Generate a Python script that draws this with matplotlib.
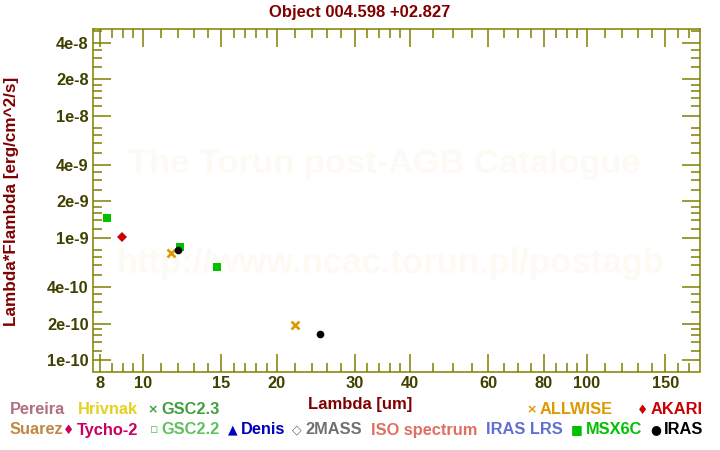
import matplotlib
matplotlib.use("Agg")
import matplotlib.pyplot as plt
from matplotlib.ticker import FixedLocator, NullFormatter

# photometry (wavelength in um, lambda*F_lambda in erg/cm^2/s)
msx_wl = [8.28, 12.13, 14.65]
msx_flux = [1.46e-9, 8.44e-10, 5.78e-10]
akari_wl = [8.98]
akari_flux = [1.03e-9]
allwise_wl = [11.58, 22.0]
allwise_flux = [7.58e-10, 1.94e-10]
iras_wl = [12.0, 25.0]
iras_flux = [8.02e-10, 1.63e-10]

x_major = [8, 10, 15, 20, 30, 40, 60, 80, 100, 150]
x_minor = [8.5, 9, 9.5, 11, 12, 13, 14, 16, 17, 18, 19, 22, 24, 26, 28,
           32, 34, 36, 38, 45, 50, 55, 65, 70, 75, 85, 90, 95,
           110, 120, 130, 140, 160, 170]
y_major = [1e-10, 2e-10, 4e-10, 1e-9, 2e-9, 4e-9, 1e-8, 2e-8, 4e-8]
y_major_labels = ["1e-10", "2e-10", "4e-10", "1e-9", "2e-9", "4e-9",
                  "1e-8", "2e-8", "4e-8"]
y_minor = [m * d for d in (1e-10, 1e-9, 1e-8)
           for m in (1.2, 1.4, 1.6, 1.8, 2.5, 3, 3.5, 5, 6, 7, 8)]

# legend entries: (text, colour, marker glyph, x pixel, row)
legend_items = [
    ("Pereira", "#b07080", "", 10, 0),
    ("Hrivnak", "#e6d020", "", 78, 0),
    ("GSC2.3", "#40a040", "\u00d7", 161, 0),
    ("ALLWISE", "#dd9900", "\u00d7", 540, 0),
    ("AKARI", "#cc0000", "\u2666", 651, 0),
    ("Suarez", "#c08840", "", 10, 1),
    ("Tycho-2", "#c80060", "\u2666", 77, 1),
    ("GSC2.2", "#60c060", "\u25ab", 161, 1),
    ("Denis", "#0000c0", "\u25b2", 241, 1),
    ("2MASS", "#707070", "\u25c7", 305, 1),
    ("ISO spectrum", "#e07060", "", 371, 1),
    ("IRAS LRS", "#6070d0", "", 486, 1),
    ("MSX6C", "#00c000", "\u25a0", 586, 1),
    ("IRAS", "#000000", "\u25cf", 664, 1),
]

plt.rcParams['font.family'] = ['Liberation Sans', 'DejaVu Sans']
plt.rcParams['font.weight'] = 'bold'

W, H = 720, 450
fig = plt.figure(figsize=(7.2, 4.5), dpi=100)
ax = fig.add_axes([93 / W, 1 - 371.5 / H, (700 - 93) / W, (371.5 - 29) / H])

olive = "#808000"
dark_olive = "#404000"
dark_red = "#800000"

# watermark
ax.text(0.48, 0.605, "The Torun post-AGB Catalogue", transform=ax.transAxes,
        ha='center', va='center', fontsize=24.8, color='#fdfaf4', zorder=0)
ax.text(0.49, 0.315, "http://www.ncac.torun.pl/postagb", transform=ax.transAxes,
        ha='center', va='center', fontsize=25, color='#fdfaf4', zorder=0)

ax.plot(msx_wl, msx_flux, 's', color='#00c000', ms=5.5, mew=0, ls='none')
ax.plot(akari_wl, akari_flux, 'D', color='#cc0000', ms=5.5, mew=0, ls='none')
ax.plot(allwise_wl, allwise_flux, 'x', color='#dd9900', ms=6, mew=1.9, ls='none')
ax.plot(iras_wl, iras_flux, 'o', color='black', ms=5.5, mew=0, ls='none')

ax.set_xscale('log')
ax.set_yscale('log')
ax.set_xlim(7.72, 179.7)
ax.set_ylim(8.1e-11, 5.16e-8)

ax.xaxis.set_major_locator(FixedLocator(x_major))
ax.xaxis.set_minor_locator(FixedLocator(x_minor))
ax.set_xticklabels([str(v) for v in x_major])
ax.xaxis.set_minor_formatter(NullFormatter())
ax.yaxis.set_major_locator(FixedLocator(y_major))
ax.yaxis.set_minor_locator(FixedLocator(y_minor))
ax.set_yticklabels(y_major_labels)
ax.yaxis.set_minor_formatter(NullFormatter())

ax.tick_params(which='both', direction='in', top=True, right=True,
               color=olive, width=1.1, labelcolor=dark_olive, labelsize=11.8)
ax.tick_params(which='major', length=13, pad=3)
ax.tick_params(which='minor', length=6.5)
for s in ax.spines.values():
    s.set_color(olive)
    s.set_linewidth(1.1)

fig.text(360 / W, 1 - 12 / H, "Object 004.598 +02.827", ha='center', va='center',
         fontsize=12, color=dark_red)
fig.text(360 / W, 1 - 404 / H, "Lambda [um]", ha='center', va='center',
         fontsize=12, color=dark_red)
fig.text(12 / W, 1 - 201 / H, "Lambda*Flambda [erg/cm^2/s]", ha='center',
         va='center', rotation=90, fontsize=12.3, color=dark_red)

for text, col, glyph, xpix, row in legend_items:
    ypix = 410 if row == 0 else 430
    fig.text(xpix / W, 1 - ypix / H, text, ha='left', va='center',
             fontsize=11.8, color=col)
    if glyph:
        fig.text((xpix - 3) / W, 1 - ypix / H, glyph, ha='right', va='center',
                 fontsize=9, color=col, family='DejaVu Sans')

fig.savefig("out.png", dpi=100, facecolor='white')
